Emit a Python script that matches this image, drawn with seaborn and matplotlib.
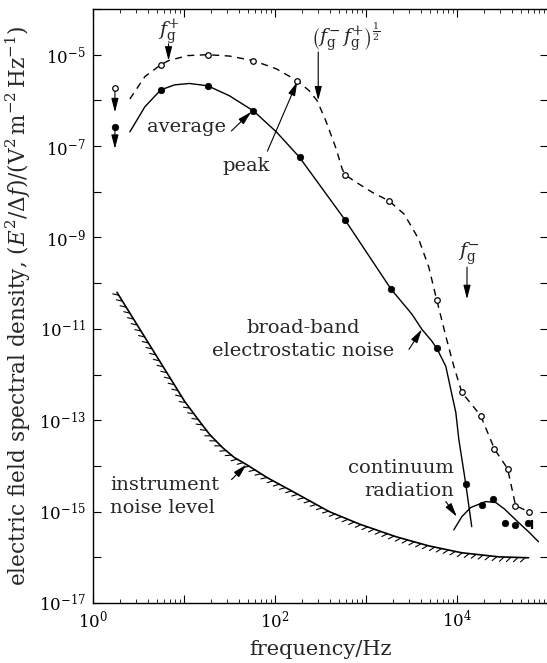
import numpy as np
import pandas as pd
import matplotlib
matplotlib.use("Agg")
import matplotlib.pyplot as plt
import matplotlib.patheffects as pe
import seaborn as sns

# ---------------- data (log10 values) ----------------
# peak spectral density (open circles)
peak_logf = [0.745, 1.26, 1.763, 2.245, 2.77, 3.25, 3.78, 4.05, 4.26, 4.41, 4.56, 4.64, 4.79]
peak_logv = [-5.22, -5.00, -5.13, -5.57, -7.63, -8.20, -10.37, -12.39, -12.90, -13.64, -14.06, -14.87, -15.00]
# average spectral density (filled circles)
avg_logf = [0.745, 1.26, 1.763, 2.27, 2.77, 3.27, 3.78, 4.10]
avg_logv = [-5.77, -5.68, -6.23, -7.24, -8.62, -10.13, -11.43, -14.39]
# upper limits at the lowest frequency
ul_logf = [0.241, 0.241]
ul_logv_open = [-5.73]
ul_logv_fill = [-6.58]
ul_logv_tip = [-6.26, -7.06]
# continuum radiation (filled circles)
cont_logf = [4.27, 4.40, 4.53, 4.64, 4.78]
cont_logv = [-14.85, -14.72, -15.24, -15.29, -15.24]
cont_bar_logf = 4.82
cont_bar_logv = [-15.18, -15.38]

# drawn curves
avg_curve_logf = [0.405, 0.57, 0.745, 0.898, 1.06, 1.26, 1.50, 1.763, 2.015, 2.267, 2.771, 3.275,
                  3.505, 3.614, 3.724, 3.779, 3.877, 3.932, 3.987, 4.02, 4.096, 4.162]
avg_curve_logv = [-6.69, -6.14, -5.77, -5.66, -5.63, -5.68, -5.90, -6.23, -6.69, -7.24, -8.62, -10.13,
                  -10.68, -11.01, -11.27, -11.43, -11.82, -12.33, -12.83, -13.42, -14.39, -15.33]
peak_curve_logf = [0.405, 0.57, 0.745, 0.83, 1.04, 1.26, 1.50, 1.763, 2.015, 2.245, 2.377, 2.464,
                   2.563, 2.672, 2.738, 2.771, 2.89, 3.067, 3.253, 3.42, 3.58, 3.69, 3.779, 3.877,
                   3.965, 4.053, 4.26, 4.414, 4.556, 4.644, 4.786]
peak_curve_logv = [-5.97, -5.48, -5.22, -5.13, -5.02, -5.00, -5.03, -5.13, -5.31, -5.57, -5.79, -6.01,
                   -6.47, -7.06, -7.50, -7.63, -7.79, -8.01, -8.20, -8.49, -9.04, -9.65, -10.38,
                   -11.16, -11.82, -12.39, -12.90, -13.64, -14.06, -14.87, -15.00]
cont_curve_logf = [3.965, 4.053, 4.151, 4.315, 4.425, 4.52, 4.677, 4.786, 4.896]
cont_curve_logv = [-15.40, -15.11, -14.91, -14.78, -14.80, -14.94, -15.24, -15.44, -15.66]
noise_logf = [0.263, 1.008, 1.139, 1.281, 1.424, 1.555, 1.687, 1.917, 2.158, 2.596, 2.924, 3.33,
              3.69, 4.05, 4.458, 4.786]
noise_logv = [-10.20, -12.59, -12.94, -13.31, -13.60, -13.82, -13.97, -14.26, -14.52, -15.00, -15.27,
              -15.55, -15.75, -15.90, -15.99, -16.01]

xticks_log = [0, 2, 4]
yticks_log = [-17, -15, -13, -11, -9, -7, -5]


def p(a):
    return np.power(10.0, np.asarray(a, dtype=float))


# ---------------- figure ----------------
sns.set_theme(style="ticks")
plt.rcParams["font.family"] = ["DejaVu Serif"]
plt.rcParams["mathtext.fontset"] = "dejavuserif"

fig = plt.figure(figsize=(5.47, 6.63), dpi=100)
ax = fig.add_axes([93 / 547, 60 / 663, 455 / 547, 594 / 663])
ax.set_xscale("log")
ax.set_yscale("log")

k = "black"
sns.lineplot(x=p(avg_curve_logf), y=p(avg_curve_logv), sort=False, estimator=None,
             color=k, lw=1.0, ax=ax)
sns.lineplot(x=p(peak_curve_logf), y=p(peak_curve_logv), sort=False, estimator=None,
             color=k, lw=1.0, ax=ax)
ax.lines[-1].set_dashes((5, 4))
sns.lineplot(x=p(cont_curve_logf), y=p(cont_curve_logv), sort=False, estimator=None,
             color=k, lw=1.0, ax=ax)
sns.lineplot(x=p(noise_logf), y=p(noise_logv), sort=False, estimator=None,
             color=k, lw=1.2, ax=ax)
ax.lines[-1].set_path_effects([pe.withTickedStroke(angle=-135, spacing=5, length=0.9, linewidth=0.8)])

sns.scatterplot(x=p(avg_logf), y=p(avg_logv), color=k, edgecolor=k, s=22, linewidth=0.5,
                zorder=4, ax=ax)
sns.scatterplot(x=p(peak_logf), y=p(peak_logv), color="white", edgecolor=k, s=16,
                linewidth=0.9, zorder=4, ax=ax)
sns.scatterplot(x=p(cont_logf), y=p(cont_logv), color=k, edgecolor=k, s=22, linewidth=0.5,
                zorder=4, ax=ax)
ax.vlines(p([cont_bar_logf]), p(cont_bar_logv[1]), p(cont_bar_logv[0]), color=k, lw=1.6)
# upper limits
sns.scatterplot(x=p(ul_logf[:1]), y=p(ul_logv_open), color="white", edgecolor=k, s=16,
                linewidth=0.9, zorder=4, ax=ax)
sns.scatterplot(x=p(ul_logf[1:]), y=p(ul_logv_fill), color=k, edgecolor=k, s=22,
                linewidth=0.5, zorder=4, ax=ax)

arr = dict(arrowstyle="-|>,head_length=0.7,head_width=0.18", color=k, lw=0.8,
           shrinkA=0, shrinkB=0, mutation_scale=12)
ax.annotate("", xy=(p(ul_logf[0]), p(ul_logv_tip[0])), xytext=(p(ul_logf[0]), p(ul_logv_open[0])),
            arrowprops=arr)
ax.annotate("", xy=(p(ul_logf[1]), p(ul_logv_tip[1])), xytext=(p(ul_logf[1]), p(ul_logv_fill[0])),
            arrowprops=arr)

fs = 14
def note(txt, xy, xytext, txy, **kw):
    ax.annotate("", xy=(p(xy[0]), p(xy[1])), xytext=(p(xytext[0]), p(xytext[1])), arrowprops=arr)
    ax.text(p(txy[0]), p(txy[1]), txt, fontsize=fs, **kw)

note(r"$f_{\mathrm{g}}^{+}$", (0.83, -5.13), (0.83, -4.76), (0.83, -4.50), ha="center", va="center")
note(r"$\left(f_{\mathrm{g}}^{-}\,f_{\mathrm{g}}^{+}\right)^{\frac{1}{2}}$", (2.475, -6.0), (2.475, -4.94),
     (2.78, -4.61), ha="center", va="center")
note(r"$f_{\mathrm{g}}^{-}$", (4.11, -10.35), (4.11, -9.65), (4.13, -9.35), ha="center", va="center")
note("average", (1.74, -6.25), (1.52, -6.67), (1.03, -6.58), ha="center", va="center")
note("peak", (2.245, -5.59), (1.917, -7.11), (1.687, -7.44), ha="center", va="center")
note("broad-band\nelectrostatic noise", (3.614, -11.01), (3.472, -11.45), (2.31, -11.23),
     ha="center", va="center", linespacing=1.35)
note("continuum\nradiation", (3.998, -15.11), (3.877, -14.78), (3.965, -14.30),
     ha="right", va="center", linespacing=1.35)
note("instrument\nnoise level", (1.687, -13.97), (1.522, -14.30), (0.186, -14.67),
     ha="left", va="center", linespacing=1.35)

# axes formatting
ax.set_xlim(1, 1e5)
ax.set_ylim(1e-17, 1e-4)
ax.set_xticks(p(np.arange(0, 6)))
ax.set_xticklabels([rf"$10^{{{int(e)}}}$" if e in xticks_log else "" for e in range(0, 6)])
ax.set_yticks(p(np.arange(-17, -3)))
ax.set_yticklabels([rf"$10^{{{int(e)}}}$" if e in yticks_log else "" for e in range(-17, -3)])
ax.yaxis.set_minor_locator(matplotlib.ticker.NullLocator())
ax.xaxis.set_minor_locator(matplotlib.ticker.LogLocator(base=10, subs=np.arange(2, 10)))
ax.xaxis.set_minor_formatter(matplotlib.ticker.NullFormatter())
ax.tick_params(which="major", direction="in", length=6, width=0.8, top=True, right=True,
               labelsize=12, colors=k, pad=5)
ax.tick_params(which="minor", direction="in", length=3, width=0.7, top=True, right=False)
for s in ax.spines.values():
    s.set_linewidth(1.0)
    s.set_color(k)
ax.set_xlabel("frequency/Hz", fontsize=15, labelpad=6)
ax.set_ylabel(r"electric field spectral density, $(E^{2}/\Delta f)/(\mathrm{V}^{2}\,\mathrm{m}^{-2}\,\mathrm{Hz}^{-1})$",
              fontsize=15.5, labelpad=4)

fig.savefig("out.png", dpi=100)
